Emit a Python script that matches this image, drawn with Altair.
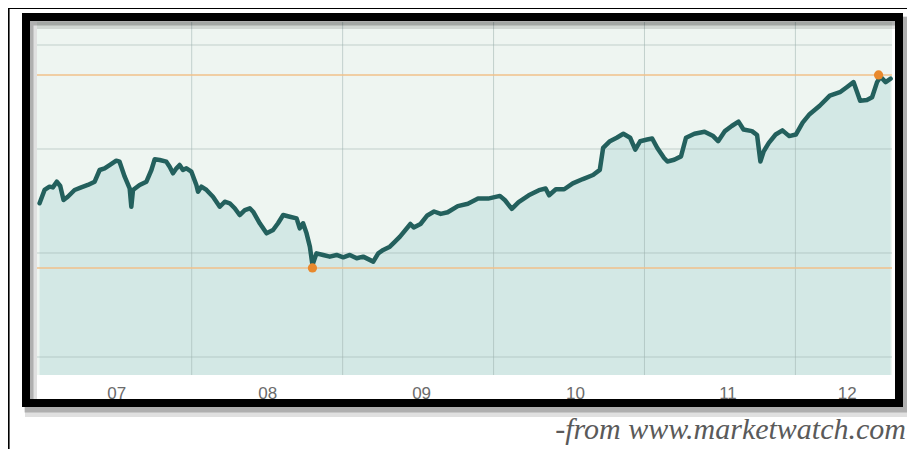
import altair as alt
import pandas as pd

# ---- data (fractional year, index level) ----
years = [2006.992, 2007.025, 2007.058, 2007.080, 2007.106, 2007.129, 2007.151, 2007.179,
         2007.224, 2007.268, 2007.312, 2007.357, 2007.390, 2007.423, 2007.456, 2007.500,
         2007.522, 2007.556, 2007.589, 2007.600, 2007.611, 2007.655, 2007.700, 2007.733,
         2007.755, 2007.788, 2007.832, 2007.854, 2007.876, 2007.899, 2007.920, 2007.942,
         2007.965, 2007.998, 2008.031, 2008.042, 2008.064, 2008.098, 2008.141, 2008.186,
         2008.219, 2008.252, 2008.285, 2008.318, 2008.352, 2008.385, 2008.407, 2008.451,
         2008.496, 2008.539, 2008.572, 2008.606, 2008.650, 2008.695, 2008.716, 2008.738,
         2008.761, 2008.783, 2008.800, 2008.827, 2008.871, 2008.915, 2008.960, 2009.004,
         2009.048, 2009.093, 2009.136, 2009.203, 2009.236, 2009.269, 2009.313, 2009.347,
         2009.380, 2009.449, 2009.471, 2009.516, 2009.561, 2009.606, 2009.650, 2009.696,
         2009.763, 2009.830, 2009.897, 2009.964, 2010.042, 2010.076, 2010.121, 2010.166,
         2010.233, 2010.301, 2010.345, 2010.368, 2010.413, 2010.468, 2010.525, 2010.592,
         2010.659, 2010.704, 2010.726, 2010.771, 2010.816, 2010.860, 2010.905, 2010.939,
         2010.972, 2011.018, 2011.051, 2011.085, 2011.130, 2011.152, 2011.197, 2011.242,
         2011.275, 2011.331, 2011.398, 2011.455, 2011.488, 2011.533, 2011.578, 2011.623,
         2011.656, 2011.712, 2011.746, 2011.768, 2011.790, 2011.824, 2011.869, 2011.914,
         2011.959, 2012.003, 2012.048, 2012.094, 2012.161, 2012.228, 2012.295, 2012.340,
         2012.385, 2012.429, 2012.474, 2012.508, 2012.541, 2012.564, 2012.598, 2012.631]
values = [54.78, 56.06, 56.38, 56.31, 56.86, 56.44, 55.10, 55.41,
          56.06, 56.31, 56.54, 56.86, 57.98, 58.14, 58.46, 58.88,
          58.78, 57.34, 56.22, 54.45, 56.06, 56.54, 56.86, 57.98,
          59.01, 58.94, 58.78, 58.30, 57.66, 58.14, 58.46, 57.98,
          58.14, 57.82, 56.54, 55.89, 56.38, 56.06, 55.41, 54.45,
          54.93, 54.78, 54.30, 53.65, 54.13, 54.30, 53.97, 52.86,
          51.89, 52.21, 52.86, 53.65, 53.49, 53.33, 52.37, 52.86,
          51.89, 50.61, 48.85, 49.97, 49.81, 49.65, 49.81, 49.58,
          49.81, 49.49, 49.65, 49.17, 49.97, 50.29, 50.61, 51.09,
          51.57, 52.79, 52.46, 52.79, 53.61, 53.99, 53.76, 53.92,
          54.51, 54.74, 55.23, 55.23, 55.49, 55.07, 54.25, 54.90,
          55.55, 56.04, 56.20, 55.55, 56.13, 56.13, 56.69, 57.11,
          57.50, 57.99, 60.10, 60.75, 61.08, 61.46, 61.08, 59.93,
          60.75, 60.91, 61.01, 60.10, 59.13, 58.80, 58.96, 59.29,
          61.08, 61.46, 61.65, 61.24, 60.75, 61.72, 62.21, 62.63,
          61.88, 61.72, 61.34, 58.80, 59.77, 60.59, 61.39, 61.79,
          61.24, 61.39, 62.54, 63.35, 64.16, 65.13, 65.46, 65.94,
          66.43, 64.64, 64.71, 64.97, 66.43, 66.95, 66.43, 66.76]

grid_years = [2008, 2009, 2010, 2011, 2012]
grid_values = [40, 50, 60, 70]
label_pos = [2007.50, 2008.50, 2009.52, 2010.54, 2011.55, 2012.34]
label_text = ["07", "08", "09", "10", "11", "12"]
ref_levels = [48.56, 67.12]
ext_years = [2008.80, 2012.551]
ext_vals = [48.56, 67.12]
footer = "-from www.marketwatch.com"

X_DOMAIN = [2006.975, 2012.64]
Y_DOMAIN = [38.27, 72.21]

series = pd.DataFrame({"year": years, "value": values})
vgrid = pd.DataFrame({"year": grid_years})
hgrid = pd.DataFrame({"value": grid_values})
refs = pd.DataFrame({"value": ref_levels})
ext = pd.DataFrame({"year": ext_years, "value": ext_vals})
one = pd.DataFrame({"k": [0]})

xs = alt.Scale(domain=X_DOMAIN, nice=False, zero=False)
ys = alt.Scale(domain=Y_DOMAIN, nice=False, zero=False)

label_expr = " : ".join(
    f"datum.value < {p + 0.2} ? '{t}'" for p, t in zip(label_pos, label_text)
) + " : ''"

x_axis = alt.Axis(
    values=label_pos, labelExpr=label_expr, ticks=False, domain=False, grid=False,
    labelFontSize=17, labelColor="#6b6b6b", labelFont="Liberation Sans",
    labelBaseline="alphabetic", labelPadding=23, title=None)

X = alt.X("year:Q", scale=xs, axis=x_axis)
Y = alt.Y("value:Q", scale=ys, axis=None)

area = alt.Chart(series).mark_area(color="#d3e8e5", clip=True, interpolate="linear").encode(
    x=X, y=Y)
vrules = alt.Chart(vgrid).mark_rule(color="#9fb3ae", strokeWidth=1, opacity=0.55).encode(x=X)
hrules = alt.Chart(hgrid).mark_rule(color="#9fb3ae", strokeWidth=1, opacity=0.55).encode(y=Y)
orange = alt.Chart(refs).mark_rule(color="#f0c08a", strokeWidth=1.5).encode(y=Y)
line = alt.Chart(series).mark_line(color="#23605d", strokeWidth=4.5, strokeJoin="round",
                                    strokeCap="round").encode(x=X, y=Y)
dots = alt.Chart(ext).mark_circle(color="#e8892d", size=85, opacity=1).encode(x=X, y=Y)

# decorations (document box, framed screenshot, source note)
shadow1 = alt.Chart(one).mark_rect(filled=False, stroke="#000000", strokeOpacity=0.22,
                                   strokeWidth=9).encode(
    x=alt.value(-8), x2=alt.value(866), y=alt.value(-1), y2=alt.value(386))
shadow2 = alt.Chart(one).mark_rect(filled=False, stroke="#000000", strokeOpacity=0.12,
                                   strokeWidth=12).encode(
    x=alt.value(-6), x2=alt.value(868), y=alt.value(1), y2=alt.value(389))
frame = alt.Chart(one).mark_rect(filled=False, stroke="#000000", strokeWidth=8).encode(
    x=alt.value(-11), x2=alt.value(862), y=alt.value(-5), y2=alt.value(381))
doc_v = alt.Chart(one).mark_rule(color="#000000", strokeWidth=1.6).encode(
    x=alt.value(-28.2), y=alt.value(-14), y2=alt.value(440))
doc_h = alt.Chart(one).mark_rule(color="#000000", strokeWidth=2).encode(
    x=alt.value(-30), x2=alt.value(880), y=alt.value(-14))
note = alt.Chart(one).mark_text(align="right", baseline="alphabetic", font="Liberation Serif",
                                fontStyle="italic", fontSize=30, color="#5a5a5a").encode(
    x=alt.value(869), y=alt.value(417), text=alt.value(footer))

chart = alt.layer(
    area, vrules, hrules, orange, line, dots,
    shadow2, shadow1, frame, doc_v, doc_h, note
).properties(
    width=855, height=353,
    padding={"left": 29, "top": 14, "right": 15, "bottom": 74},
    autosize=alt.AutoSizeParams(type="none"),
    background="#ffffff",
).configure_view(stroke=None, fill="#eef5f1")

chart.save("out.html", embed_options={"renderer": "svg", "actions": False})
